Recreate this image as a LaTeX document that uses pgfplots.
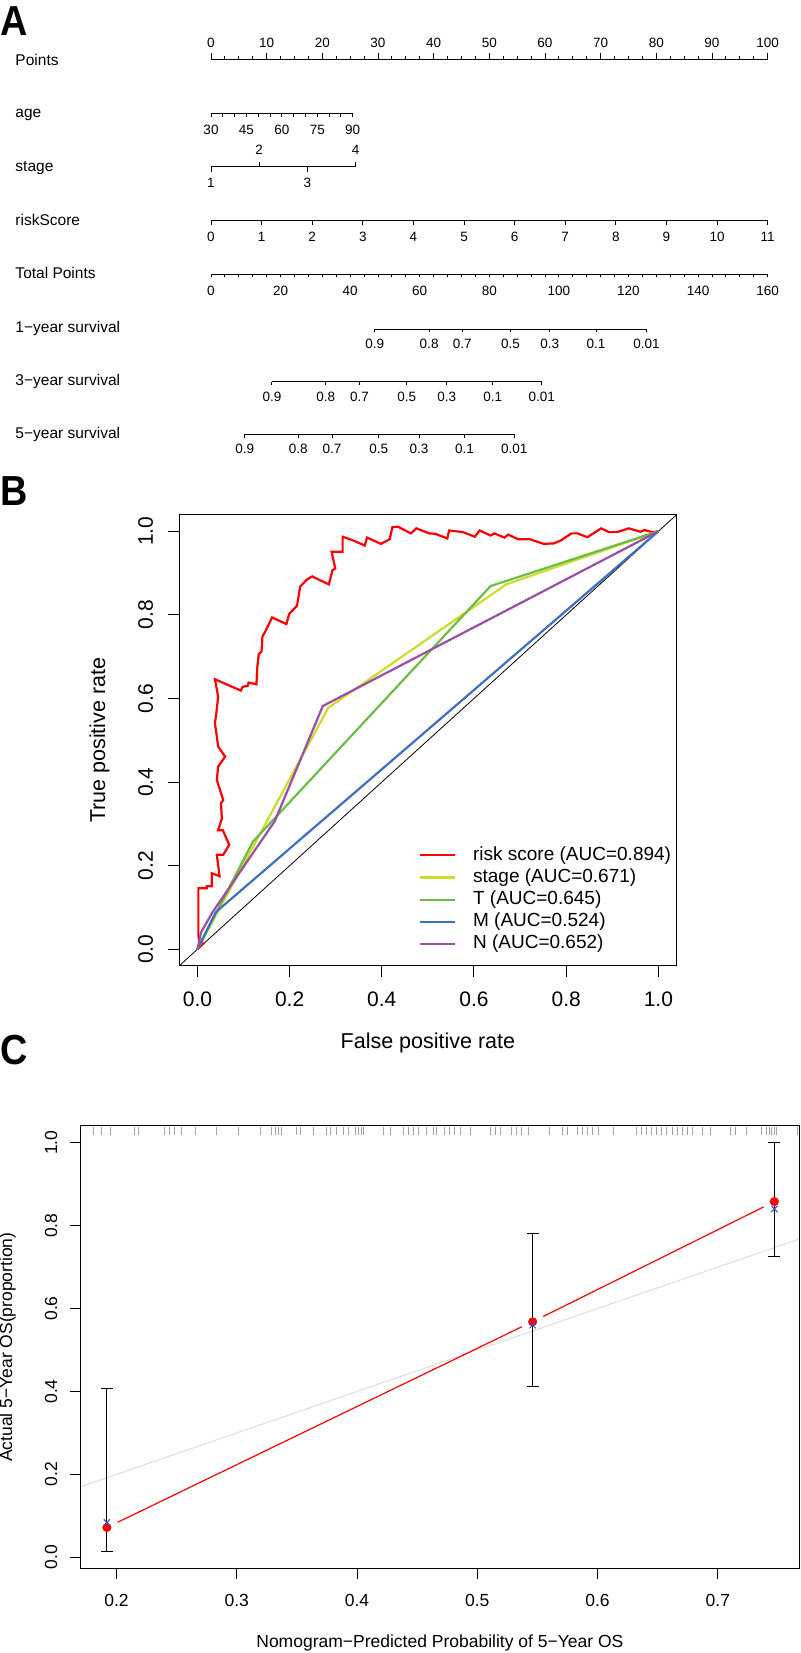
\documentclass[border=0pt]{standalone}
\usepackage{fontspec}
\setmainfont{Liberation Sans}
\usepackage{pgfplots}
\pgfplotsset{compat=1.18}
\newcommand\fs[1]{\fontsize{#1pt}{#1pt}\selectfont}
\definecolor{cRisk}{HTML}{FF0000}
\definecolor{cStage}{HTML}{CDDC28}
\definecolor{cT}{HTML}{6CBD45}
\definecolor{cM}{HTML}{3B70C2}
\definecolor{cN}{HTML}{9B4DA8}
\definecolor{cBlue}{HTML}{3050C8}
\definecolor{cRug}{HTML}{A0A0A0}
\definecolor{cDiag}{HTML}{DDDDDD}
\pgfplotsset{
  every non boxed x axis/.style={},
  every non boxed y axis/.style={},
  /pgf/number format/assume math mode=true,
  nomo/.style={scale only axis, height=2pt, ymin=0, ymax=1, axis y line=none,
    enlargelimits=false, xtick align=outside,
    axis line style={line width=0.9pt, black, -},
    tick style={line width=0.9pt, black},
    tick label style={font=\fs{13.5}},
    clip=false},
  nomobot/.style={nomo, axis x line=bottom},
  nomotop/.style={nomo, axis x line=top},
}
\begin{document}
\begin{tikzpicture}[x=1pt,y=1pt]
\path[use as bounding box] (0pt,0pt) rectangle (800pt,1653pt);

% ---------------- Panel A : nomogram ----------------
\node[anchor=base west, inner sep=0pt, font=\fs{42}\bfseries, xscale=0.9] at (0pt,1617pt) {A};
\begin{scope}[every node/.style={anchor=base west, inner sep=0pt, font=\fs{15.5}}]
\node at (15.3pt,1587.6pt) {Points};
\node at (15.3pt,1535.9pt) {age};
\node at (15.3pt,1481.9pt) {stage};
\node at (15.3pt,1427.6pt) {riskScore};
\node at (15.3pt,1374.3pt) {Total Points};
\node at (15.3pt,1320.3pt) {1−year survival};
\node at (15.3pt,1267.6pt) {3−year survival};
\node at (15.3pt,1214.3pt) {5−year survival};
\end{scope}

\begin{axis}[nomotop, at={(211pt,1593.7pt)}, anchor=north west, width=556.6pt,
  xmin=0, xmax=100, xtick={0,10,...,100}, minor x tick num=3,
  major tick length=6pt, minor tick length=3pt,
  xticklabel style={anchor=center, yshift=10pt}]
\end{axis}

\begin{axis}[nomobot, at={(211pt,1539.7pt)}, anchor=south west, width=141.7pt,
  xmin=30, xmax=90, xtick={30,45,60,75,90}, minor x tick num=2,
  major tick length=4pt, minor tick length=4pt,
  xticklabel style={anchor=center, yshift=-12.5pt}]
\end{axis}

\begin{axis}[nomobot, at={(211pt,1486.3pt)}, anchor=south west, width=144.7pt,
  xmin=1, xmax=4, xtick={1,3}, major tick length=5pt,
  xticklabel style={anchor=center, yshift=-11pt}]
\end{axis}
\begin{axis}[nomotop, at={(211pt,1486.3pt)}, anchor=north west, width=144.7pt,
  xmin=1, xmax=4, xtick={2,4}, major tick length=5pt,
  axis line style={draw=none},
  xticklabel style={anchor=center, yshift=11.5pt}]
\end{axis}

\begin{axis}[nomobot, at={(211pt,1433pt)}, anchor=south west, width=556.6pt,
  xmin=0, xmax=11, xtick={0,1,...,11}, major tick length=5pt,
  xticklabel style={anchor=center, yshift=-12pt}]
\end{axis}

\begin{axis}[nomobot, at={(211pt,1379pt)}, anchor=south west, width=556.6pt,
  xmin=0, xmax=160, xtick={0,20,...,160}, minor x tick num=4,
  major tick length=3.5pt, minor tick length=3.5pt,
  xticklabel style={anchor=center, yshift=-13.5pt}]
\end{axis}

\begin{axis}[nomobot, at={(374.85pt,1324pt)}, anchor=south west, width=271.7pt,
  xmin=47.1, xmax=125.2, xtick={47.1,62.7,72.2,86.1,97.4,110.7,125.2},
  xticklabels={0.9,0.8,0.7,0.5,0.3,0.1,0.01}, major tick length=3.5pt,
  xticklabel style={anchor=center, yshift=-11.5pt}]
\end{axis}

\begin{axis}[nomobot, at={(271.9pt,1271.3pt)}, anchor=south west, width=269.9pt,
  xmin=17.5, xmax=95.1, xtick={17.5,33.0,42.7,56.3,67.8,81.0,95.1},
  xticklabels={0.9,0.8,0.7,0.5,0.3,0.1,0.01}, major tick length=3.5pt,
  xticklabel style={anchor=center, yshift=-11.5pt}]
\end{axis}

\begin{axis}[nomobot, at={(244.7pt,1218.7pt)}, anchor=south west, width=269.6pt,
  xmin=9.7, xmax=87.2, xtick={9.7,25.1,34.8,48.2,59.8,72.9,87.2},
  xticklabels={0.9,0.8,0.7,0.5,0.3,0.1,0.01}, major tick length=3.5pt,
  xticklabel style={anchor=center, yshift=-11.5pt}]
\end{axis}

% ---------------- Panel B : ROC ----------------
\node[anchor=base west, inner sep=0pt, font=\fs{42}\bfseries, xscale=0.9] at (0pt,1147pt) {B};
\begin{axis}[at={(179pt,687pt)}, anchor=south west, scale only axis,
  width=497.8pt, height=451.4pt,
  xmin=-0.04, xmax=1.04, ymin=-0.04, ymax=1.04,
  axis line style={line width=1pt},
  tick style={line width=1pt, black},
  tick align=outside, xtick pos=left, ytick pos=left,
  major tick length=11pt,
  xtick={0,0.2,0.4,0.6,0.8,1}, xticklabels={0.0,0.2,0.4,0.6,0.8,1.0},
  ytick={0,0.2,0.4,0.6,0.8,1}, yticklabels={0.0,0.2,0.4,0.6,0.8,1.0},
  tick label style={font=\fs{21}},
  xticklabel style={anchor=center, yshift=-22pt},
  yticklabel style={anchor=center, xshift=-22.3pt, rotate=90},
  xlabel={False positive rate}, ylabel={True positive rate},
  label style={font=\fs{21.5}},
  xlabel style={at={(axis description cs:0.5,-0.1712)}, anchor=center},
  ylabel style={at={(axis description cs:-0.1597,0.5)}, anchor=center},
  legend style={at={(axis description cs:0.4813,0.2658)}, anchor=north west,
    draw=none, fill=none, font=\fs{19}, row sep=4pt, column sep=16.5pt,
    inner sep=0pt, nodes={inner sep=0pt, text height=13.8pt, text depth=4.4pt}},
  legend cell align=left,
  legend image code/.code={\draw[#1] (0pt,0pt) -- (35.6pt,0pt);},
]
\addplot[black, line width=0.8pt, forget plot] coordinates {(-0.04,-0.04) (1.04,1.04)};
\addplot[cRisk, line width=2.2pt] coordinates {
(0.000,0.000) (0.002,0.002) (0.013,0.014) (0.004,0.016) (0.002,0.034) (0.002,0.146)
(0.020,0.146) (0.020,0.151) (0.031,0.151) (0.031,0.182) (0.048,0.175) (0.042,0.226)
(0.056,0.226) (0.069,0.250) (0.055,0.285) (0.045,0.285) (0.053,0.313) (0.051,0.349)
(0.056,0.357) (0.042,0.405) (0.045,0.437) (0.060,0.461) (0.045,0.485) (0.038,0.541)
(0.041,0.565) (0.045,0.604) (0.038,0.646) (0.094,0.619) (0.098,0.628) (0.109,0.630)
(0.111,0.638) (0.128,0.634) (0.130,0.676) (0.133,0.706) (0.139,0.712) (0.141,0.748)
(0.147,0.760) (0.162,0.794) (0.193,0.778) (0.199,0.802) (0.216,0.822) (0.223,0.868)
(0.238,0.885) (0.249,0.892) (0.285,0.873) (0.293,0.907) (0.299,0.911) (0.291,0.951)
(0.315,0.951) (0.315,0.987) (0.336,0.979) (0.363,0.966) (0.368,0.985) (0.398,0.970)
(0.417,0.981) (0.423,1.010) (0.435,1.011) (0.463,0.995) (0.475,1.007) (0.503,0.995)
(0.516,0.994) (0.542,0.983) (0.546,1.002) (0.576,0.998) (0.602,0.987) (0.612,1.002)
(0.636,0.990) (0.644,0.995) (0.666,0.985) (0.674,0.992) (0.696,0.981) (0.721,0.981)
(0.751,0.970) (0.773,0.971) (0.790,0.979) (0.811,0.995) (0.824,0.995) (0.846,0.986)
(0.876,1.007) (0.893,0.998) (0.910,0.998) (0.936,1.007) (0.961,0.999) (0.970,1.003)
(0.987,0.998) (1.000,1.000)};
\addlegendentry{risk score (AUC=0.894)}
\addplot[cStage, line width=2.2pt] coordinates {(0,0) (0.010,0.020) (0.284,0.578) (0.670,0.873) (1,1)};
\addlegendentry{stage (AUC=0.671)}
\addplot[cT, line width=2.2pt] coordinates {(0,0) (0.120,0.257) (0.636,0.869) (1,1)};
\addlegendentry{T (AUC=0.645)}
\addplot[cM, line width=2.2pt] coordinates {(0,0) (0.040,0.089) (1,1)};
\addlegendentry{M (AUC=0.524)}
\addplot[cN, line width=2.2pt] coordinates {(0,0) (0.008,0.041) (0.033,0.089) (0.168,0.307) (0.272,0.582) (1,1)};
\addlegendentry{N (AUC=0.652)}
\end{axis}

% ---------------- Panel C : calibration ----------------
\node[anchor=base west, inner sep=0pt, font=\fs{42}\bfseries, xscale=0.9] at (0pt,588pt) {C};
\begin{axis}[at={(80.8pt,84.7pt)}, anchor=south west, scale only axis,
  width=718.2pt, height=442.3pt,
  xmin=0.1703, xmax=0.7675, ymin=-0.0265, ymax=1.0403,
  axis line style={line width=1pt},
  tick style={line width=1pt, black},
  tick align=outside, xtick pos=left, ytick pos=left,
  major tick length=11pt,
  xtick={0.2,0.3,0.4,0.5,0.6,0.7}, xticklabels={0.2,0.3,0.4,0.5,0.6,0.7},
  ytick={0,0.2,0.4,0.6,0.8,1}, yticklabels={0.0,0.2,0.4,0.6,0.8,1.0},
  tick label style={font=\fs{17.5}},
  xticklabel style={anchor=center, yshift=-20.7pt},
  yticklabel style={anchor=center, xshift=-18.8pt, rotate=90},
  xlabel={Nomogram−Predicted Probability of 5−Year OS},
  ylabel={Actual 5−Year OS(proportion)},
  label style={font=\fs{17.5}},
  xlabel style={at={(axis description cs:0.5,-0.1696)}, anchor=center},
  ylabel style={at={(axis description cs:-0.1018,0.5)}, anchor=center},
]
\addplot[cDiag, line width=1pt] coordinates {(0.1703,0.1703) (0.7675,0.7675)};
\addplot[only marks, mark=|, mark size=4pt, cRug, mark options={line width=0.6pt}] coordinates {
(0.1807,1.028) (0.1877,1.028) (0.1952,1.028) (0.2148,1.028) (0.2181,1.028) (0.2395,1.028)
(0.2439,1.028) (0.2480,1.028) (0.2542,1.028) (0.2653,1.028) (0.2833,1.028) (0.3012,1.028)
(0.3193,1.028) (0.3290,1.028) (0.3318,1.028) (0.3345,1.028) (0.3373,1.028) (0.3498,1.028)
(0.3525,1.028) (0.3636,1.028) (0.3747,1.028) (0.3775,1.028) (0.3830,1.028) (0.3885,1.028)
(0.3927,1.028) (0.3983,1.028) (0.4010,1.028) (0.4038,1.028) (0.4052,1.028) (0.4218,1.028)
(0.4273,1.028) (0.4384,1.028) (0.4426,1.028) (0.4467,1.028) (0.4509,1.028) (0.4579,1.028)
(0.4633,1.028) (0.4662,1.028) (0.4727,1.028) (0.4770,1.028) (0.4812,1.028) (0.4855,1.028)
(0.4939,1.028) (0.5110,1.028) (0.5152,1.028) (0.5195,1.028) (0.5279,1.028) (0.5322,1.028)
(0.5364,1.028) (0.5428,1.028) (0.5598,1.028) (0.5704,1.028) (0.5746,1.028) (0.5831,1.028)
(0.5874,1.028) (0.5917,1.028) (0.5959,1.028) (0.6002,1.028) (0.6129,1.028) (0.6320,1.028)
(0.6363,1.028) (0.6405,1.028) (0.6447,1.028) (0.6490,1.028) (0.6532,1.028) (0.6575,1.028)
(0.6618,1.028) (0.6660,1.028) (0.6702,1.028) (0.6745,1.028) (0.6787,1.028) (0.6872,1.028)
(0.6936,1.028) (0.7106,1.028) (0.7148,1.028) (0.7234,1.028) (0.7361,1.028) (0.7403,1.028)
(0.7424,1.028) (0.7446,1.028) (0.7467,1.028) (0.7488,1.028) (0.7658,1.028)};
\addplot[red, line width=1.2pt] coordinates {(0.2009,0.0844) (0.5370,0.5560)};
\addplot[red, line width=1.2pt] coordinates {(0.5549,0.5809) (0.7381,0.8451)};
% error bars
\addplot[black, line width=1pt] coordinates {(0.192,0.0135) (0.192,0.408)};
\addplot[black, line width=1pt] coordinates {(0.1871,0.0135) (0.1969,0.0135)};
\addplot[black, line width=1pt] coordinates {(0.1871,0.408) (0.1969,0.408)};
\addplot[black, line width=1pt] coordinates {(0.546,0.4115) (0.546,0.782)};
\addplot[black, line width=1pt] coordinates {(0.5411,0.4115) (0.5509,0.4115)};
\addplot[black, line width=1pt] coordinates {(0.5411,0.782) (0.5509,0.782)};
\addplot[black, line width=1pt] coordinates {(0.747,0.725) (0.747,1.0)};
\addplot[black, line width=1pt] coordinates {(0.7421,0.725) (0.7519,0.725)};
\addplot[black, line width=1pt] coordinates {(0.7421,1.0) (0.7519,1.0)};
\addplot[only marks, mark=*, mark size=4.3pt, red, mark options={draw=red, fill=red}] coordinates {(0.192,0.072) (0.546,0.568) (0.747,0.858)};
\addplot[only marks, mark=x, mark size=4.5pt, cBlue, mark options={line width=1pt}] coordinates {(0.192,0.084) (0.546,0.560) (0.747,0.840)};
\end{axis}
\end{tikzpicture}
\end{document}
